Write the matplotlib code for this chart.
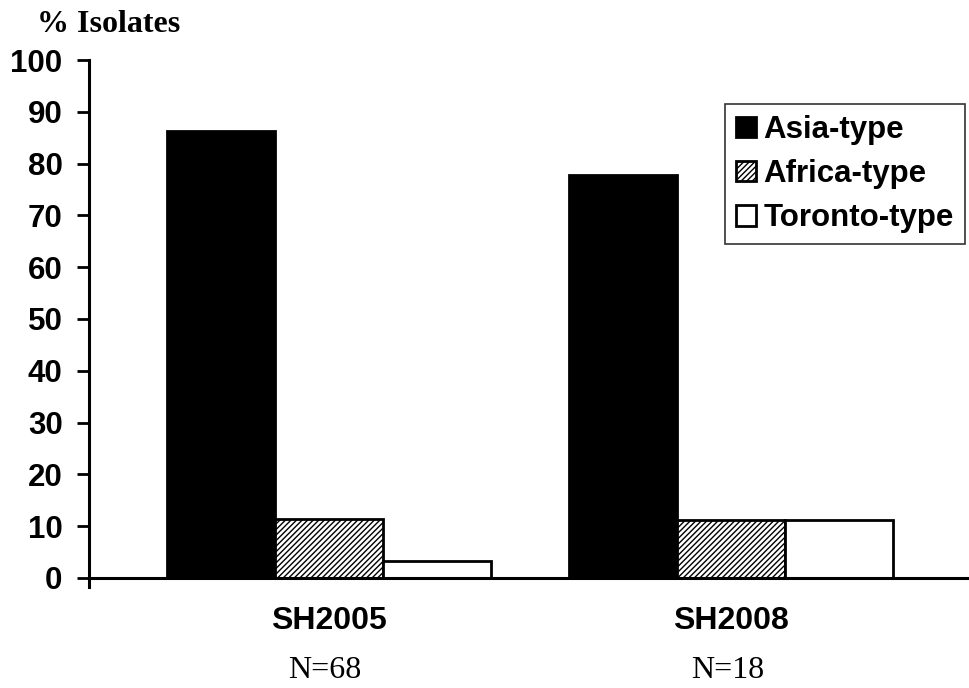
import matplotlib
matplotlib.use("Agg")
import matplotlib.pyplot as plt
import matplotlib.transforms as mtransforms
import numpy as np

groups = ["SH2005", "SH2008"]
n_labels = ["N=68", "N=18"]
series = ["Asia-type", "Africa-type", "Toronto-type"]
asia = [86.2, 77.8]
africa = [11.4, 11.1]
toronto = [3.2, 11.1]
yticks = [0, 10, 20, 30, 40, 50, 60, 70, 80, 90, 100]

plt.rcParams['hatch.color'] = '#555555'
plt.rcParams['hatch.linewidth'] = 1.0

fig = plt.figure(figsize=(9.69, 6.88), dpi=100)
ax = fig.add_axes([89/969, (688-587)/688, 1 - 89/969, (587-60)/688])

x = np.arange(len(groups))
w = 0.268
ax.bar(x - w, asia, w, color='black', edgecolor='black', linewidth=2, label=series[0])
ax.bar(x, africa, w, color='white', edgecolor='black', hatch='//////', linewidth=2, label=series[1])
ax.bar(x + w, toronto, w, color='white', edgecolor='black', linewidth=2, label=series[2])

ax.set_xlim(-0.595, 1.59)
ax.set_ylim(-1.74, 100)
ax.spines['top'].set_visible(False)
ax.spines['right'].set_visible(False)
ax.spines['bottom'].set_position(('data', 0))
ax.spines['left'].set_linewidth(2.2)
ax.spines['bottom'].set_linewidth(2.2)

ax.set_yticks(yticks)
ax.set_yticklabels([str(t) for t in yticks], fontfamily='Liberation Sans', fontweight='bold', fontsize=22.5)
ax.tick_params(axis='y', direction='out', length=9, width=2, pad=10)
ax.set_xticks(x)
ax.set_xticklabels(groups, fontfamily='Liberation Sans', fontweight='bold', fontsize=23)
ax.tick_params(axis='x', length=0, pad=20)

trans = mtransforms.blended_transform_factory(ax.transData, fig.transFigure)
for xi, lab in zip(x, n_labels):
    ax.text(xi - 0.01, (688-670)/688, lab, transform=trans, ha='center', va='center',
            fontfamily='Liberation Serif', fontsize=23)

fig.text(37/969, (688-25)/688, "% Isolates", fontfamily='Liberation Serif', fontweight='bold',
         fontsize=23, ha='left', va='center')

leg = ax.legend(loc='upper right', bbox_to_anchor=(965/969, (688-104)/688), bbox_transform=fig.transFigure,
                prop={'family': 'Liberation Sans', 'weight': 'bold', 'size': 22.5},
                frameon=True, fancybox=False, edgecolor='black', handlelength=0.65, handleheight=0.65,
                handletextpad=0.25, labelspacing=0.45, borderpad=0.35, borderaxespad=0)
leg.get_frame().set_linewidth(1.2)

fig.savefig("out.png", dpi=100)
